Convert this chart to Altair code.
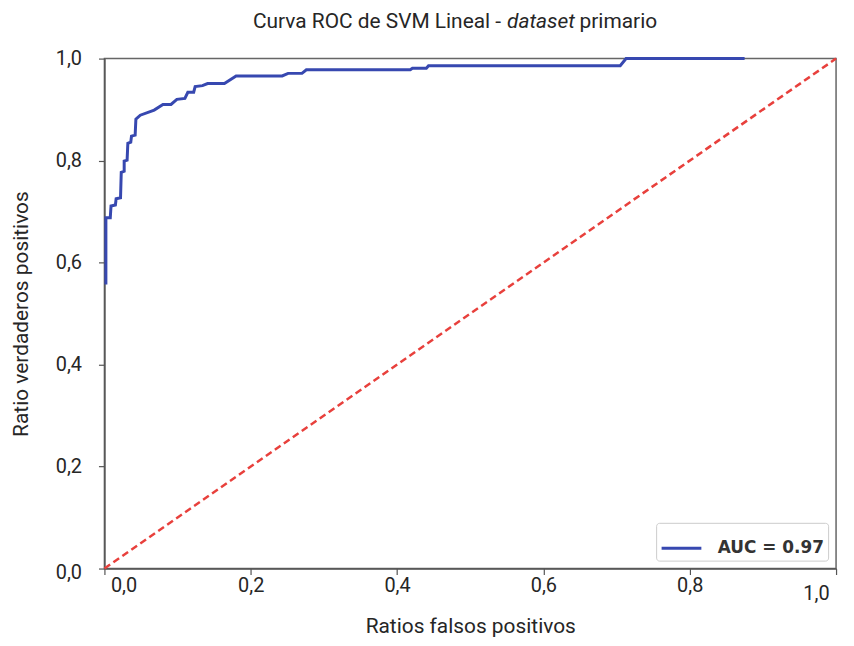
import altair as alt
import pandas as pd

# ROC curve vertices (false positive rate, true positive rate)
fpr = [0.002, 0.002, 0.008, 0.009, 0.015, 0.016, 0.022, 0.023, 0.027, 0.027,
       0.031, 0.032, 0.036, 0.037, 0.042, 0.043, 0.049, 0.068, 0.080, 0.091,
       0.099, 0.110, 0.114, 0.122, 0.124, 0.134, 0.141, 0.164, 0.180, 0.243,
       0.251, 0.270, 0.276, 0.418, 0.421, 0.440, 0.443, 0.705, 0.713, 0.875]
tpr = [0.557, 0.688, 0.688, 0.711, 0.713, 0.725, 0.727, 0.777, 0.779, 0.799,
       0.801, 0.834, 0.836, 0.848, 0.850, 0.881, 0.889, 0.899, 0.910, 0.910,
       0.920, 0.922, 0.934, 0.934, 0.945, 0.947, 0.951, 0.951, 0.966, 0.966,
       0.971, 0.971, 0.978, 0.978, 0.981, 0.981, 0.986, 0.986, 1.000, 1.000]
series_label = "AUC = 0.97"

diag_x = [0.0, 1.0]
diag_y = [0.0, 1.0]

tick_values = [0.0, 0.2, 0.4, 0.6, 0.8, 1.0]

title_parts = ["Curva ROC de SVM Lineal -", "dataset", "primario"]
x_title = "Ratios falsos positivos"
y_title = "Ratio verdaderos positivos"

BLUE = "#3748b0"
RED = "#e8403c"
FONT = "Roboto"
TXT = "#262626"

roc_df = pd.DataFrame({"fpr": fpr, "tpr": tpr, "idx": list(range(len(fpr))),
                       "serie": [series_label] * len(fpr)})
diag_df = pd.DataFrame({"x": diag_x, "y": diag_y})

label_expr = "replace(format(datum.value, '.1f'), '.', ',')"

x_axis = alt.Axis(
    values=tick_values, labelExpr=label_expr, title=x_title,
    labelPadding={"condition": [{"test": "datum.value == 1", "value": 9}], "value": 1},
    labelOffset={"condition": [{"test": "datum.value == 0", "value": 6},
                               {"test": "datum.value == 1", "value": -7}], "value": 0},
    titlePadding=12,
)
y_axis = alt.Axis(
    values=tick_values, labelExpr=label_expr, title=y_title,
    labelPadding=17,
    labelOffset={"condition": [{"test": "datum.value == 0", "value": 4}], "value": 0},
    titlePadding=24,
)

x_scale = alt.Scale(domain=[0, 1], nice=False)
y_scale = alt.Scale(domain=[0, 1], nice=False)

roc = alt.Chart(roc_df).mark_line(strokeWidth=3).encode(
    x=alt.X("fpr:Q", scale=x_scale, axis=x_axis),
    y=alt.Y("tpr:Q", scale=y_scale, axis=y_axis),
    order="idx:Q",
    color=alt.Color("serie:N", scale=alt.Scale(domain=[series_label], range=[BLUE]),
                    legend=alt.Legend(title=None, orient="bottom-right", offset=8,
                                      symbolType="stroke", symbolSize=1600,
                                      symbolStrokeWidth=3, labelFont="DejaVu Sans",
                                      labelFontSize=17, labelFontWeight="bold",
                                      labelColor="#333", labelOffset=15,
                                      padding=4, cornerRadius=3,
                                      strokeColor="#cccccc", fillColor="white")),
)

diag = alt.Chart(diag_df).mark_line(color=RED, strokeWidth=2.5, strokeDash=[7, 4]).encode(
    x=alt.X("x:Q", scale=x_scale),
    y=alt.Y("y:Q", scale=y_scale),
)

TS = 21
t1 = alt.Chart(pd.DataFrame({"t": [title_parts[0]]})).mark_text(
    align="right", baseline="middle", font=FONT, fontSize=TS, color=TXT
).encode(x=alt.value(399), y=alt.value(-37), text="t:N")
t2 = alt.Chart(pd.DataFrame({"t": [title_parts[1]]})).mark_text(
    align="left", baseline="middle", font=FONT, fontSize=TS, fontStyle="italic", color=TXT
).encode(x=alt.value(405), y=alt.value(-37), text="t:N")
t3 = alt.Chart(pd.DataFrame({"t": [title_parts[2]]})).mark_text(
    align="left", baseline="middle", font=FONT, fontSize=TS, color=TXT
).encode(x=alt.value(478), y=alt.value(-37), text="t:N")

chart = alt.layer(roc, diag, t1, t2, t3).properties(
    width=736, height=513,
    padding={"left": 2, "top": 1, "right": 5, "bottom": 5},
).configure_view(
    stroke="#666", strokeWidth=1.5
).configure_axis(
    grid=False, labelFont=FONT, labelFontSize=20, labelColor=TXT,
    titleFont=FONT, titleFontSize=21, titleFontWeight="normal", titleColor=TXT,
    domainColor="#555", domainWidth=1.5, tickColor="#555", tickSize=6, tickWidth=1.2,
)

chart.save("out.html", embed_options={"renderer": "svg", "actions": False})
